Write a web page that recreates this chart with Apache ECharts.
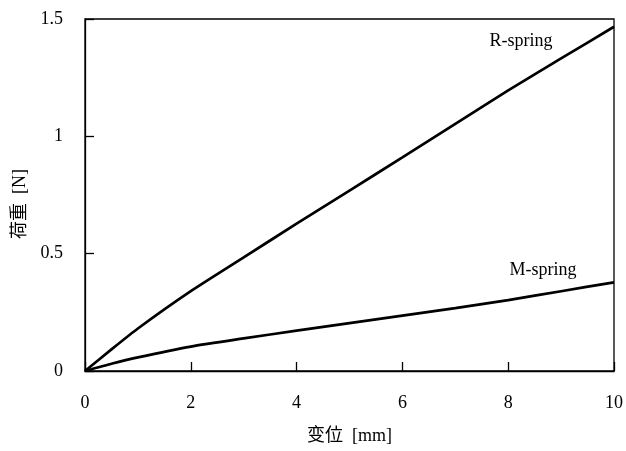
<!DOCTYPE html>
<html>
<head>
<meta charset="utf-8">
<script src="https://cdn.jsdelivr.net/npm/echarts@6/dist/echarts.min.js"></script>
<style>
html,body{margin:0;padding:0;background:#fff;}
#main{width:626px;height:451px;}
</style>
</head>
<body>
<div id="main"></div>
<script>
var displacement = [0, 0.5, 1, 2, 3, 4, 5, 6, 7, 8, 9, 10];
var rSpring = [0, 0.092, 0.181, 0.340, 0.484, 0.628, 0.769, 0.910, 1.053, 1.196, 1.332, 1.467];
var mSpring = [0, 0.031, 0.058, 0.104, 0.139, 0.172, 0.204, 0.236, 0.268, 0.302, 0.340, 0.378];
var xTicks = [0, 2, 4, 6, 8, 10];
var yTicks = [0, 0.5, 1, 1.5];
var seriesNames = ['R-spring', 'M-spring'];
var xName = '变位  [mm]';
var yName = '荷重  [N]';

var font = "'Liberation Serif', 'Times New Roman', 'Noto Sans CJK JP', serif";
function pairs(xs, ys) { return xs.map(function (x, i) { return [x, ys[i]]; }); }

var chart = echarts.init(document.getElementById('main'), null, {renderer: 'canvas'});
chart.setOption({
  animation: false,
  backgroundColor: '#fff',
  grid: {left: 85, right: 12, top: 19, bottom: 80, show: true, borderColor: '#000', borderWidth: 1.3, backgroundColor: 'transparent'},
  xAxis: {
    type: 'value', min: xTicks[0], max: xTicks[xTicks.length - 1], interval: 2,
    name: xName, nameLocation: 'middle', nameGap: 56,
    nameTextStyle: {fontFamily: font, fontSize: 18, color: '#000'},
    axisLine: {show: true, lineStyle: {color: '#000', width: 1.3}},
    axisTick: {show: true, inside: true, length: 9, lineStyle: {color: '#000', width: 1.3}},
    axisLabel: {margin: 23, fontFamily: font, fontSize: 18, color: '#000'},
    splitLine: {show: false}
  },
  yAxis: {
    type: 'value', min: yTicks[0], max: yTicks[yTicks.length - 1], interval: 0.5,
    name: yName, nameLocation: 'middle', nameGap: 46, nameRotate: 90,
    nameTextStyle: {fontFamily: font, fontSize: 18, color: '#000', padding: [0, 18, 0, 0]},
    axisLine: {show: true, lineStyle: {color: '#000', width: 1.3}},
    axisTick: {show: true, inside: true, length: 9, lineStyle: {color: '#000', width: 1.3}},
    axisLabel: {margin: 22, fontFamily: font, fontSize: 18, color: '#000'},
    splitLine: {show: false}
  },
  series: [
    {
      name: seriesNames[0], type: 'line', data: pairs(displacement, rSpring),
      smooth: 0.2, showSymbol: false, lineStyle: {color: '#000', width: 2.7},
      markPoint: {
        symbol: 'circle', symbolSize: 0,
        label: {show: true, formatter: seriesNames[0], fontFamily: font, fontSize: 18, color: '#000', position: 'inside'},
        data: [{coord: [8.24, 1.405]}]
      }
    },
    {
      name: seriesNames[1], type: 'line', data: pairs(displacement, mSpring),
      smooth: 0.2, showSymbol: false, lineStyle: {color: '#000', width: 2.7},
      markPoint: {
        symbol: 'circle', symbolSize: 0,
        label: {show: true, formatter: seriesNames[1], fontFamily: font, fontSize: 18, color: '#000', position: 'inside'},
        data: [{coord: [8.66, 0.43]}]
      }
    }
  ]
});
</script>
</body>
</html>
